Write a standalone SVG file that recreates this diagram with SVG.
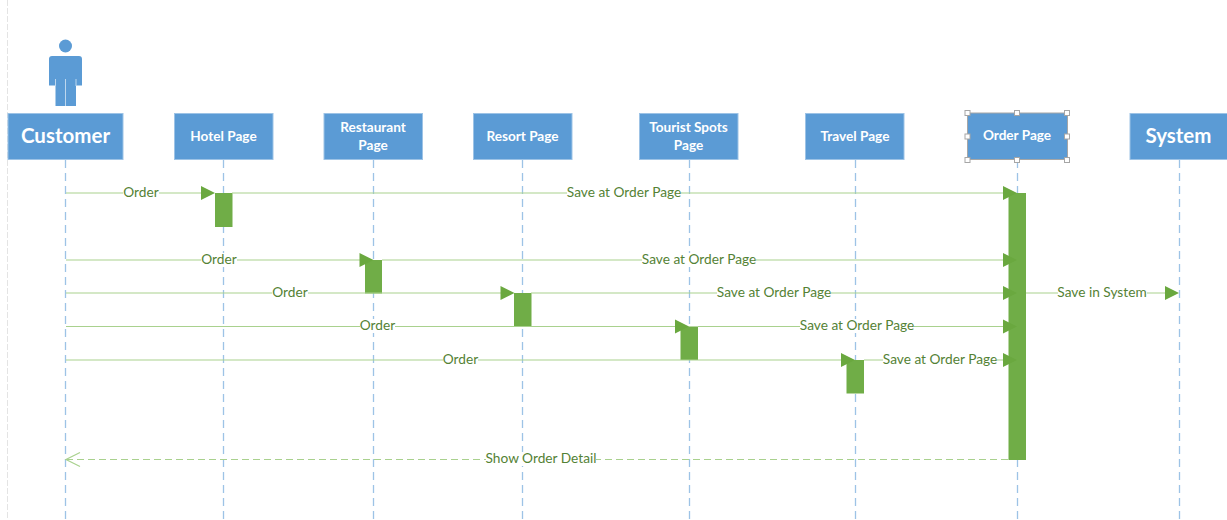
<svg xmlns="http://www.w3.org/2000/svg" width="1227" height="520" viewBox="0 0 1227 520">
<style>
text{font-family:Lato,"Open Sans",sans-serif}
.n{fill:#5b9bd5;stroke:#9dc3e6;stroke-width:1}
.t{fill:#fff;font-weight:700;font-size:13.6px;text-anchor:middle}
.b{fill:#fff;font-weight:700;font-size:20.500px;text-anchor:middle}
.l{stroke:#9dc3e6;stroke-width:1.3;stroke-dasharray:8 5;fill:none}
.m{stroke:#a9d18e;stroke-width:1.2;fill:none}
.a{fill:#70ad47}
.h{fill:#6aa83f}
.x{fill:#548235;font-size:13.700px;text-anchor:middle}
.bg{fill:#fff}
.s{fill:#fff;stroke:#a6a6a6;stroke-width:1}
</style>
<rect width="1227" height="520" fill="#fff"/>
<line x1="7.500" y1="0" x2="7.500" y2="520" stroke="#e4e4e4" stroke-width="1" stroke-dasharray="6 2"/>
<g id="lifelines">
<line class="l" x1="65.500" y1="160" x2="65.500" y2="520"/>
<line class="l" x1="223.500" y1="160" x2="223.500" y2="520"/>
<line class="l" x1="373.500" y1="160" x2="373.500" y2="520"/>
<line class="l" x1="522.500" y1="160" x2="522.500" y2="520"/>
<line class="l" x1="689.500" y1="160" x2="689.500" y2="520"/>
<line class="l" x1="855.500" y1="160" x2="855.500" y2="520"/>
<line class="l" x1="1017.500" y1="160" x2="1017.500" y2="520"/>
<line class="l" x1="1179.500" y1="160" x2="1179.500" y2="520"/>
</g>
<g id="actor">
<circle cx="65.500" cy="46" r="6.500" fill="#5b9bd5"/>
<path d="M52 56H79Q82 56 82 59V85.500H76V106H55.500V85.500H49V59Q49 56 52 56Z" fill="#5b9bd5"/>
<path d="M65.500 79V106M55.500 79V86M76 79V86" stroke="#bdd7ee" stroke-width="1" fill="none"/>
</g>
<g id="activations">
<rect class="a" x="215" y="193" width="17.500" height="34"/>
<rect class="a" x="365" y="260" width="17" height="33.500"/>
<rect class="a" x="514" y="293" width="17.500" height="33.500"/>
<rect class="a" x="680.500" y="326.500" width="17.500" height="33.500"/>
<rect class="a" x="846.500" y="360" width="17.500" height="33.500"/>
<rect class="a" x="1008.500" y="193" width="17.500" height="267"/>
</g>
<g id="connectors">
<line class="m" x1="66" y1="193" x2="205" y2="193"/>
<polygon class="h" points="201,186 215,193 201,200"/>
<line class="m" x1="232" y1="193" x2="1008" y2="193"/>
<polygon class="h" points="1003,186 1017,193 1003,200"/>
<line class="m" x1="66" y1="260" x2="362" y2="260"/>
<polygon class="h" points="359.500,253 373.500,260 359.500,267"/>
<line class="m" x1="382" y1="260" x2="1008" y2="260"/>
<polygon class="h" points="1003,253 1017,260 1003,267"/>
<line class="m" x1="66" y1="293" x2="505" y2="293"/>
<polygon class="h" points="500.500,286 514.500,293 500.500,300"/>
<line class="m" x1="531" y1="293" x2="1008" y2="293"/>
<polygon class="h" points="1003,286 1017,293 1003,300"/>
<line class="m" x1="66" y1="326.500" x2="678" y2="326.500"/>
<polygon class="h" points="675,319.500 689,326.500 675,333.500"/>
<line class="m" x1="698" y1="326.500" x2="1008" y2="326.500"/>
<polygon class="h" points="1003,319.500 1017,326.500 1003,333.500"/>
<line class="m" x1="66" y1="360" x2="845" y2="360"/>
<polygon class="h" points="841,353 855,360 841,367"/>
<line class="m" x1="864" y1="360" x2="1008" y2="360"/>
<polygon class="h" points="1003,353 1017,360 1003,367"/>
<line class="m" x1="1026" y1="293" x2="1168" y2="293"/>
<polygon class="h" points="1165,286 1179,293 1165,300"/>
<line class="m" x1="1008" y1="459.500" x2="66" y2="459.500" stroke-dasharray="7 4"/>
<polyline class="m" points="80,452.500 66,459.500 80,466.500"/>
</g>
<g id="labels">
<rect class="bg" x="123" y="186" width="36" height="14"/><text class="x" x="141" y="197">Order</text>
<rect class="bg" x="201" y="253" width="36" height="14"/><text class="x" x="219" y="264">Order</text>
<rect class="bg" x="272" y="286" width="36" height="14"/><text class="x" x="290" y="297">Order</text>
<rect class="bg" x="360" y="319" width="35" height="14"/><text class="x" x="377.500" y="330">Order</text>
<rect class="bg" x="443" y="353" width="35" height="14"/><text class="x" x="460.500" y="364">Order</text>
<rect class="bg" x="567" y="186" width="114" height="14"/><text class="x" x="624" y="197">Save at Order Page</text>
<rect class="bg" x="642" y="253" width="114" height="14"/><text class="x" x="699" y="264">Save at Order Page</text>
<rect class="bg" x="717" y="286" width="114" height="14"/><text class="x" x="774" y="297">Save at Order Page</text>
<rect class="bg" x="800" y="319" width="114" height="14"/><text class="x" x="857" y="330">Save at Order Page</text>
<rect class="bg" x="883" y="353" width="114" height="14"/><text class="x" x="940" y="364">Save at Order Page</text>
<rect class="bg" x="1058" y="286" width="89" height="14"/><text class="x" x="1102" y="297">Save in System</text>
<rect class="bg" x="486" y="452" width="110" height="14"/><text class="x" x="541" y="463">Show Order Detail</text>
</g>
<g id="customer"><rect class="n" x="8" y="113.500" width="115" height="46"/><text class="b" x="65.500" y="143">Customer</text></g>
<g id="hotel"><rect class="n" x="174.500" y="113.500" width="98.500" height="46"/><text class="t" x="223.500" y="140.500">Hotel Page</text></g>
<g id="restaurant"><rect class="n" x="324" y="113.500" width="98.500" height="46"/><text class="t" x="373" y="132">Restaurant</text><text class="t" x="373" y="149.500">Page</text></g>
<g id="resort"><rect class="n" x="473.500" y="113.500" width="98.500" height="46"/><text class="t" x="522.500" y="140.500">Resort Page</text></g>
<g id="tourist"><rect class="n" x="639.500" y="113.500" width="98.500" height="46"/><text class="t" x="688.500" y="132">Tourist Spots</text><text class="t" x="688.500" y="149.500">Page</text></g>
<g id="travel"><rect class="n" x="805.500" y="113.500" width="98.500" height="46"/><text class="t" x="855" y="140.500">Travel Page</text></g>
<g id="order">
<rect x="967.500" y="113" width="100" height="46.500" fill="#5b9bd5" stroke="#a6a6a6" stroke-width="1"/>
<text class="t" x="1017" y="140">Order Page</text>
<rect class="s" x="965" y="110.500" width="5" height="5"/><rect class="s" x="1014.500" y="110.500" width="5" height="5"/><rect class="s" x="1064.500" y="110.500" width="5" height="5"/>
<rect class="s" x="965" y="134" width="5" height="5"/><rect class="s" x="1064.500" y="134" width="5" height="5"/>
<rect class="s" x="965" y="157.500" width="5" height="5"/><rect class="s" x="1014.500" y="157.500" width="5" height="5"/><rect class="s" x="1064.500" y="157.500" width="5" height="5"/>
</g>
<g id="system"><rect class="n" x="1130" y="113.500" width="98" height="46"/><text class="b" x="1178.500" y="143">System</text></g>
</svg>
